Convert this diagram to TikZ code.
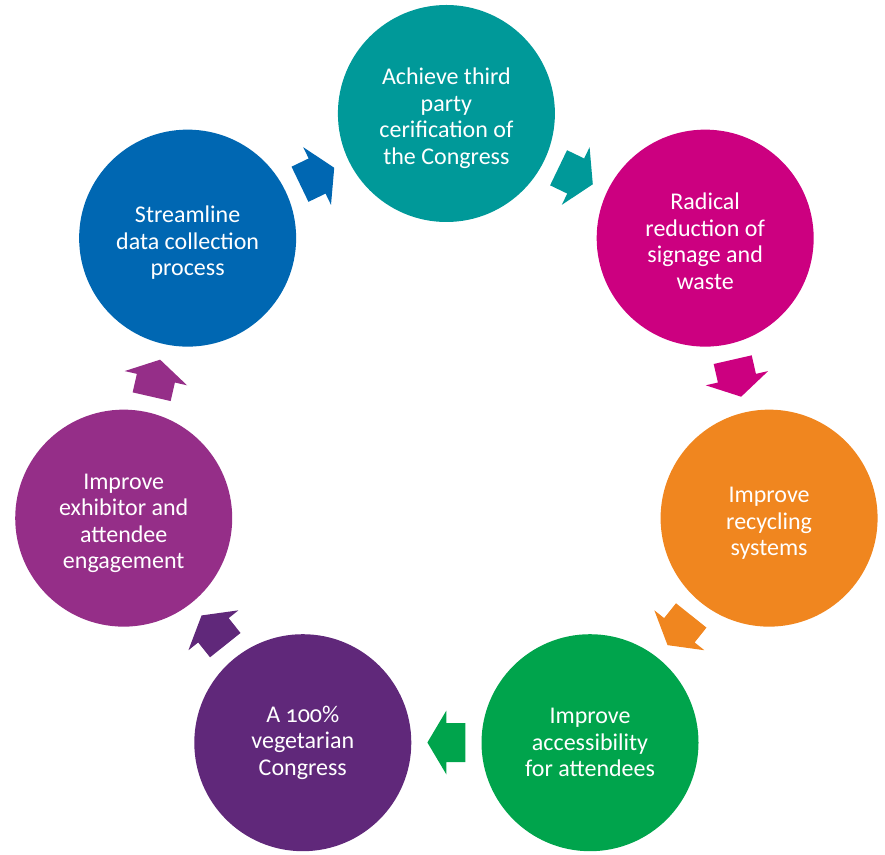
\documentclass[tikz,border=0pt]{standalone}
\usepackage{fontspec}
\setmainfont{Carlito}[Numbers=OldStyle]
\usetikzlibrary{calc}
\definecolor{cteal}{RGB}{0,153,153}
\definecolor{cmag}{RGB}{204,0,128}
\definecolor{corange}{RGB}{240,134,31}
\definecolor{cgreen}{RGB}{0,164,76}
\definecolor{cpurple}{RGB}{96,40,122}
\definecolor{cplum}{RGB}{149,46,136}
\definecolor{cblue}{RGB}{0,103,178}
\newcommand\toplift[1][26pt]{\rule{0pt}{#1}}
\begin{document}
\begin{tikzpicture}[x=1pt,y=1pt,
  stage/.style={circle, fill=#1, minimum size=217pt, inner sep=0pt, text=white,
    align=center, font=\fontsize{24}{26.5}\selectfont},
  blockarrow/.style={fill=#1}]
\useasboundingbox (0,0) rectangle (885,854);
\coordinate (O) at (446.4,409.5);
% circles
\node[stage=cteal]   (s1) at ($(O)+(90:331)$)       {\toplift Achieve third\\party\\cerification of\\the Congress};
\node[stage=cmag]    (s2) at ($(O)+(38.571:331)$)   {\toplift[23pt]Radical\\reduction of\\signage and\\waste};
\node[stage=corange] (s3) at ($(O)+(-12.857:331)$)  {\toplift Improve\\recycling\\systems};
\node[stage=cgreen]  (s4) at ($(O)+(-64.286:331)$)  {Improve\\accessibility\\for attendees};
\node[stage=cpurple] (s5) at ($(O)+(-115.714:331)$) {A 100\%\\vegetarian\\Congress};
\node[stage=cplum]   (s6) at ($(O)+(-167.143:331)$) {\toplift Improve\\exhibitor and\\attendee\\engagement};
\node[stage=cblue]   (s7) at ($(O)+(141.429:331)$)  {\toplift Streamline\\data collection\\process};
% arrow positions
\coordinate (a1) at ($(O)+(64.286:298)$);
\coordinate (a2) at ($(O)+(12.857:298)$);
\coordinate (a3) at ($(O)+(-38.571:298)$);
\coordinate (a4) at ($(O)+(-90:298)$);
\coordinate (a5) at ($(O)+(-141.429:298)$);
\coordinate (a6) at ($(O)+(167.143:298)$);
\coordinate (a7) at ($(O)+(115.714:298)$);
\def\arrowshape{(-19,19.5) -- (0,19.5) -- (0,32) -- (19,0) -- (0,-32) -- (0,-19.5) -- (-19,-19.5) -- cycle}
\fill[blockarrow=cteal,   shift={(a1)}, rotate=-25.714]  \arrowshape;
\fill[blockarrow=cmag,    shift={(a2)}, rotate=-77.143]  \arrowshape;
\fill[blockarrow=corange, shift={(a3)}, rotate=-128.571] \arrowshape;
\fill[blockarrow=cgreen,  shift={(a4)}, rotate=-180]     \arrowshape;
\fill[blockarrow=cpurple, shift={(a5)}, rotate=-231.429] \arrowshape;
\fill[blockarrow=cplum,   shift={(a6)}, rotate=77.143]   \arrowshape;
\fill[blockarrow=cblue,   shift={(a7)}, rotate=25.714]   \arrowshape;
\end{tikzpicture}
\end{document}
